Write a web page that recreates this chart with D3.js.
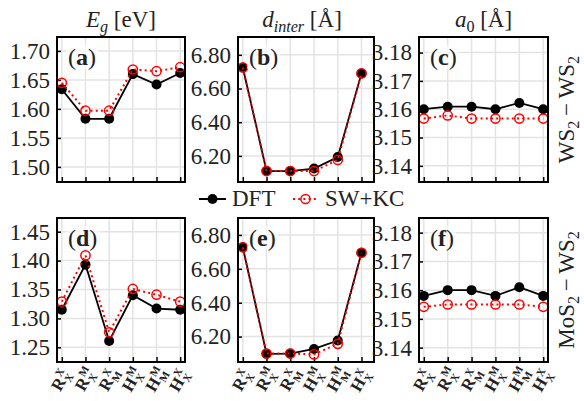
<!DOCTYPE html>
<html>
<head>
<meta charset="utf-8">
<script src="https://cdn.jsdelivr.net/npm/d3@7"></script>
<style>
  body { margin: 0; background: #fff; }
  svg { display: block; font-family: "Liberation Serif", serif; }
</style>
</head>
<body>
<svg id="chart" width="584" height="401"></svg>
<script>
// stackings, in x order
const stackings = ["RXX", "RMX", "RXM", "HMX", "HMM", "HXX"];
const xMain = ["R", "R", "R", "H", "H", "H"];
const xSup = ["X", "M", "X", "M", "M", "X"];
const xSub = ["X", "X", "M", "X", "M", "X"];

// WS2-WS2
const gapDFT_WW = [1.634, 1.583, 1.583, 1.660, 1.642, 1.662];
const gapKC_WW = [1.645, 1.597, 1.597, 1.668, 1.665, 1.672];
const dintDFT_WW = [6.725, 6.110, 6.110, 6.125, 6.193, 6.690];
const dintKC_WW = [6.725, 6.110, 6.110, 6.110, 6.176, 6.690];
const a0DFT_WW = [3.1600, 3.1609, 3.1609, 3.1600, 3.1622, 3.1600];
const a0KC_WW = [3.1567, 3.1578, 3.1567, 3.1567, 3.1567, 3.1567];

// MoS2-WS2
const gapDFT_MW = [1.315, 1.393, 1.261, 1.340, 1.317, 1.315];
const gapKC_MW = [1.329, 1.409, 1.276, 1.351, 1.341, 1.329];
const dintDFT_MW = [6.727, 6.098, 6.100, 6.127, 6.177, 6.695];
const dintKC_MW = [6.727, 6.100, 6.100, 6.095, 6.157, 6.695];
const a0DFT_MW = [3.1580, 3.1600, 3.1600, 3.1580, 3.1610, 3.1580];
const a0KC_MW = [3.1542, 3.1550, 3.1550, 3.1550, 3.1550, 3.1542];

const yTicksGap_WW = [1.50, 1.55, 1.60, 1.65, 1.70];
const yTicksGap_MW = [1.25, 1.30, 1.35, 1.40, 1.45];
const yTicksDint = [6.20, 6.40, 6.60, 6.80];
const yTicksA0 = [3.14, 3.15, 3.16, 3.17, 3.18];

const columnTitles = [
  [{t: "E", it: true}, {t: "g", it: true, sub: true}, {t: " [eV]"}],
  [{t: "d", it: true}, {t: "inter", it: true, sub: true}, {t: " [Å]"}],
  [{t: "a", it: true}, {t: "0", sub: true}, {t: " [Å]"}]
];
const rowLabels = [["WS", "2", "\u2009−\u2009WS", "2"], ["MoS", "2", "\u2009−\u2009WS", "2"]];

const columns = [
  {left: 57, right: 185},
  {left: 238, right: 374, padR: 12.5},
  {left: 419, right: 548}
];
const rows = [{top: 37, bottom: 182}, {top: 218, bottom: 362}];

const panels = [
  {row: 0, col: 0, tag: "a", dft: gapDFT_WW, kc: gapKC_WW, ticks: yTicksGap_WW, domain: [1.474, 1.724]},
  {row: 0, col: 1, tag: "b", dft: dintDFT_WW, kc: dintKC_WW, ticks: yTicksDint, domain: [6.045, 6.906]},
  {row: 0, col: 2, tag: "c", dft: a0DFT_WW, kc: a0KC_WW, ticks: yTicksA0, domain: [3.1343, 3.1855]},
  {row: 1, col: 0, tag: "d", dft: gapDFT_MW, kc: gapKC_MW, ticks: yTicksGap_MW, domain: [1.2246, 1.4737]},
  {row: 1, col: 1, tag: "e", dft: dintDFT_MW, kc: dintKC_MW, ticks: yTicksDint, domain: [6.050, 6.900]},
  {row: 1, col: 2, tag: "f", dft: a0DFT_MW, kc: a0KC_MW, ticks: yTicksA0, domain: [3.1350, 3.1851]}
];

const red = "#ff0000";
const fs = 23;

const svg = d3.select("#chart");

panels.forEach(p => {
  const c = columns[p.col], r = rows[p.row];
  const x = d3.scalePoint()
    .domain(stackings)
    .range([c.left + 4.8, c.right - (c.padR || 4.8)]);
  const y = d3.scaleLinear().domain(p.domain).range([r.bottom, r.top]);

  const g = svg.append("g");

  // grid
  g.selectAll("line.vg").data(stackings).enter().append("line")
    .attr("x1", d => x(d)).attr("x2", d => x(d))
    .attr("y1", r.top).attr("y2", r.bottom)
    .attr("stroke", "#e3e3e3").attr("stroke-width", 1.5);
  g.selectAll("line.hg").data(p.ticks).enter().append("line")
    .attr("x1", c.left).attr("x2", c.right)
    .attr("y1", d => y(d)).attr("y2", d => y(d))
    .attr("stroke", "#e3e3e3").attr("stroke-width", 1.5);

  // axes, ticks pointing inward
  const yAxis = g.append("g")
    .attr("transform", `translate(${c.left},0)`)
    .call(d3.axisLeft(y).tickValues(p.ticks).tickFormat(d3.format(".2f")).tickSizeInner(-4).tickSizeOuter(0).tickPadding(7));
  yAxis.select(".domain").remove();
  yAxis.selectAll("line").attr("stroke", "#000").attr("stroke-width", 1.5);
  yAxis.selectAll("text").attr("font-size", fs).attr("font-family", "Liberation Serif").attr("fill", "#222");

  const xAxis = g.append("g")
    .attr("transform", `translate(0,${r.bottom})`)
    .call(d3.axisBottom(x).tickSizeInner(-5).tickSizeOuter(0).tickFormat(""));
  xAxis.select(".domain").remove();
  xAxis.selectAll("line").attr("stroke", "#000").attr("stroke-width", 1.5);

  // DFT
  const line = d3.line().x((d, i) => x(stackings[i])).y(d => y(d));
  g.append("path").datum(p.dft).attr("d", line)
    .attr("fill", "none").attr("stroke", "#000").attr("stroke-width", 1.8);
  g.selectAll("circle.dft").data(p.dft).enter().append("circle")
    .attr("cx", (d, i) => x(stackings[i])).attr("cy", d => y(d)).attr("r", 5)
    .attr("fill", "#000");

  // SW+KC
  g.append("path").datum(p.kc).attr("d", line)
    .attr("fill", "none").attr("stroke", red).attr("stroke-width", 2)
    .attr("stroke-dasharray", "2,3.2");
  g.selectAll("circle.kc").data(p.kc).enter().append("circle")
    .attr("cx", (d, i) => x(stackings[i])).attr("cy", d => y(d)).attr("r", 4.6)
    .attr("fill", "none").attr("stroke", red).attr("stroke-width", 1.5);

  // panel tag with translucent box
  const tag = g.append("text")
    .attr("x", c.left + 11).attr("y", r.top + 28)
    .attr("font-size", fs + 1).attr("fill", "#222");
  tag.append("tspan").text("(");
  tag.append("tspan").attr("font-weight", "bold").text(p.tag);
  tag.append("tspan").text(")");
  const bb = tag.node().getBBox();
  g.insert("rect", () => tag.node())
    .attr("x", bb.x - 2).attr("y", bb.y + 1).attr("width", bb.width + 4).attr("height", bb.height - 2)
    .attr("fill", "#fff").attr("fill-opacity", 0.6);

  // frame
  g.append("rect")
    .attr("x", c.left).attr("y", r.top)
    .attr("width", c.right - c.left).attr("height", r.bottom - r.top)
    .attr("fill", "none").attr("stroke", "#000").attr("stroke-width", 2);

  // x tick labels on bottom row
  if (p.row === 1) {
    stackings.forEach((s, i) => {
      const lg = g.append("g")
        .attr("transform", `translate(${x(s) + 5},${r.bottom + 7}) rotate(-60)`);
      lg.append("text").attr("x", -11).attr("y", 6)
        .attr("text-anchor", "end").attr("font-size", 17).attr("font-weight", "bold").attr("fill", "#222")
        .text(xMain[i]);
      lg.append("text").attr("x", -10.5).attr("y", -1)
        .attr("font-size", 11).attr("font-weight", "bold").attr("fill", "#222")
        .text(xSup[i]);
      lg.append("text").attr("x", -10.5).attr("y", 10)
        .attr("font-size", 11).attr("font-weight", "bold").attr("fill", "#222")
        .text(xSub[i]);
    });
  }
});

// column titles
columnTitles.forEach((parts, i) => {
  const c = columns[i];
  const t = svg.append("text")
    .attr("x", (c.left + c.right) / 2 + (i === 1 ? -4 : 0)).attr("y", 27)
    .attr("text-anchor", "middle").attr("font-size", fs).attr("fill", "#222");
  parts.forEach((pt, k) => {
    const ts = t.append("tspan").text(pt.t);
    if (pt.it) ts.attr("font-style", "italic");
    if (pt.sub) ts.attr("font-size", fs * 0.7).attr("dy", 5);
    else if (k > 0) ts.attr("dy", -5);
  });
});

// row labels on the right
rowLabels.forEach((parts, i) => {
  const r = rows[i];
  const t = svg.append("text")
    .attr("transform", `translate(${574},${(r.top + r.bottom) / 2}) rotate(-90)`)
    .attr("text-anchor", "middle").attr("font-size", fs).attr("fill", "#222");
  parts.forEach((s, k) => {
    const ts = t.append("tspan").text(s);
    if (k % 2 === 1) ts.attr("font-size", fs * 0.7).attr("dy", 5);
    else if (k > 0) ts.attr("dy", -5);
  });
});

// legend
const leg = svg.append("g").attr("transform", "translate(0,199)");
leg.append("line").attr("x1", 199).attr("x2", 226).attr("stroke", "#000").attr("stroke-width", 2);
leg.append("circle").attr("cx", 212.5).attr("r", 5).attr("fill", "#000");
leg.append("text").attr("x", 232).attr("y", 7).attr("font-size", fs).attr("fill", "#222").text("DFT");
leg.append("line").attr("x1", 293).attr("x2", 318).attr("stroke", red).attr("stroke-width", 2)
  .attr("stroke-dasharray", "2,3.2");
leg.append("circle").attr("cx", 305.5).attr("r", 4.6).attr("fill", "none").attr("stroke", red).attr("stroke-width", 1.5);
leg.append("text").attr("x", 325).attr("y", 7).attr("font-size", fs).attr("fill", "#222").text("SW+KC");
</script>
</body>
</html>
